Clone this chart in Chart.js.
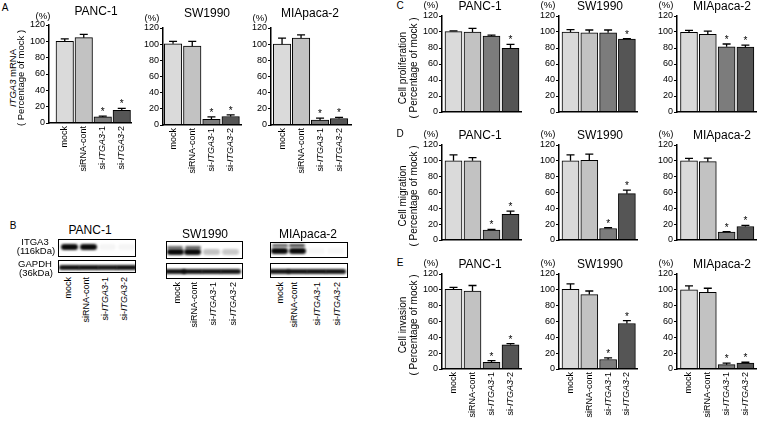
<!DOCTYPE html>
<html><head><meta charset="utf-8">
<script src="https://cdn.jsdelivr.net/npm/chart.js@4.4.1/dist/chart.umd.min.js"></script>
<style>
html,body{margin:0;padding:0;background:#fff;}
body{width:757px;height:424px;position:relative;overflow:hidden;font-family:"Liberation Sans Narrow","Arial Narrow","Liberation Sans",Arial,sans-serif;color:#000;}
.t{position:absolute;white-space:nowrap;line-height:1;transform:translate(-50%,-50%);}
.v{position:absolute;white-space:nowrap;line-height:1;writing-mode:vertical-rl;transform:translate(-50%,-50%) rotate(180deg);}
.vl{position:absolute;white-space:nowrap;line-height:1;writing-mode:vertical-rl;transform:translate(-50%,0) rotate(180deg);}
canvas{position:absolute;}
.box{position:absolute;border:1px solid #000;background:#fff;overflow:hidden;box-sizing:border-box;}
.band{position:absolute;border-radius:3px;filter:blur(1px);}
</style></head><body>
<script>
// ---------------- DATA ----------------
const categories = ['mock', 'siRNA-cont', 'si-ITGA3-1', 'si-ITGA3-2'];
const yTickValues = [0, 20, 40, 60, 80, 100, 120];
const cellLines = ['PANC-1', 'SW1990', 'MIApaca-2'];

// A: ITGA3 mRNA (% of mock)
const mrnaPANC1 = [100, 104.5, 7.5, 15.5];
const mrnaPANC1Err = [3, 4, 1, 2.5];
const mrnaSW1990 = [100.5, 97.5, 7, 10.5];
const mrnaSW1990Err = [3, 6, 3, 2];
const mrnaMIApaca2 = [100, 107.5, 6, 8];
const mrnaMIApaca2Err = [7.5, 4, 2.5, 1.5];

// C: cell proliferation
const prolifPANC1 = [100.5, 100, 95, 79.5];
const prolifPANC1Err = [0.8, 4.5, 1.2, 5];
const prolifSW1990 = [100, 99, 99, 91];
const prolifSW1990Err = [3, 3.5, 3.5, 0.8];
const prolifMIApaca2 = [99.5, 97, 81.5, 81];
const prolifMIApaca2Err = [2.5, 4, 3.5, 2.5];

// D: cell migration
const migPANC1 = [100, 100, 12.5, 32.5];
const migPANC1Err = [7.5, 4, 1, 4];
const migSW1990 = [100, 100.5, 14.5, 58.5];
const migSW1990Err = [7.5, 8, 1, 4.5];
const migMIApaca2 = [100, 99, 10, 17];
const migMIApaca2Err = [3, 4.5, 0.7, 1.5];

// E: cell invasion
const invPANC1 = [100.5, 98.5, 8.5, 30.5];
const invPANC1Err = [2.5, 7, 2, 1.5];
const invSW1990 = [100.5, 94, 12, 57.5];
const invSW1990Err = [7, 4.5, 2, 3.5];
const invMIApaca2 = [100, 97, 5.5, 7.5];
const invMIApaca2Err = [5, 5, 2, 1];

// significance markers (*)
const sigBoth = [0, 0, 1, 1];
const sigLast = [0, 0, 0, 1];

// B: western blot band intensities per lane
const blotUpperPANC1 = [0, 0, 0, 0];
const blotLowerPANC1 = [1, 1, 0.04, 0.04];
const blotGapdhPANC1 = [0.95, 0.95, 0.92, 0.95];
const blotUpperSW1990 = [0.6, 0.65, 0, 0];
const blotLowerSW1990 = [1, 1, 0.25, 0.22];
const blotGapdhSW1990 = [0.95, 0.95, 0.95, 0.95];
const blotUpperMIApaca2 = [0.65, 0.75, 0, 0];
const blotLowerMIApaca2 = [1, 1, 0.03, 0.03];
const blotGapdhMIApaca2 = [0.95, 0.95, 0.95, 0.95];

// ---------------- STYLE / LAYOUT ----------------
const FONT = '"Liberation Sans Narrow","Arial Narrow","Liberation Sans",Arial,sans-serif';
const barColors = ['#dadada', '#c2c2c2', '#7c7c7c', '#555555'];

const colR1 = {ax: 442, right: 521, b1: 445, sp: 19, bw: 17};
const colR2 = {ax: 559, right: 637, b1: 562, sp: 18.8, bw: 17};
const colR3 = {ax: 677, right: 756, b1: 680.5, sp: 18.8, bw: 17};
const rowC = {top: 16, bot: 120}, rowD = {top: 145, bot: 248}, rowE = {top: 274, bot: 377};

const panels = [
  {vals: mrnaPANC1, errs: mrnaPANC1Err, sig: sigBoth, geo: {ax: 49, right: 131, top: 25, bot: 131, b1: 56, sp: 19, bw: 17.5}, xl: true, fs: 9},
  {vals: mrnaSW1990, errs: mrnaSW1990Err, sig: sigBoth, geo: {ax: 163, right: 241, top: 28, bot: 133, b1: 164.3, sp: 19.2, bw: 17.5}, xl: true, fs: 9},
  {vals: mrnaMIApaca2, errs: mrnaMIApaca2Err, sig: sigBoth, geo: {ax: 271, right: 351, top: 28, bot: 133, b1: 273.3, sp: 19, bw: 17.5}, xl: true, fs: 9},
  {vals: prolifPANC1, errs: prolifPANC1Err, sig: sigLast, geo: Object.assign({}, colR1, rowC)},
  {vals: prolifSW1990, errs: prolifSW1990Err, sig: sigLast, geo: Object.assign({}, colR2, rowC)},
  {vals: prolifMIApaca2, errs: prolifMIApaca2Err, sig: sigBoth, geo: Object.assign({}, colR3, rowC)},
  {vals: migPANC1, errs: migPANC1Err, sig: sigBoth, geo: Object.assign({}, colR1, rowD)},
  {vals: migSW1990, errs: migSW1990Err, sig: sigBoth, geo: Object.assign({}, colR2, rowD)},
  {vals: migMIApaca2, errs: migMIApaca2Err, sig: sigBoth, geo: Object.assign({}, colR3, rowD)},
  {vals: invPANC1, errs: invPANC1Err, sig: sigBoth, geo: Object.assign({}, colR1, rowE), xl: true, fs: 9},
  {vals: invSW1990, errs: invSW1990Err, sig: sigBoth, geo: Object.assign({}, colR2, rowE), xl: true, fs: 9},
  {vals: invMIApaca2, errs: invMIApaca2Err, sig: sigBoth, geo: Object.assign({}, colR3, rowE), xl: true, fs: 9},
];

// ---------------- HELPERS ----------------
function addDiv(cls, html, x, y, size, extra) {
  const d = document.createElement('div');
  d.className = cls; d.style.left = x + 'px'; d.style.top = y + 'px';
  d.style.fontSize = size + 'px'; d.innerHTML = html;
  if (extra) Object.assign(d.style, extra);
  document.body.appendChild(d); return d;
}
function italicize(s) { return s.replace('ITGA3', '<i>ITGA3</i>'); }

function drawRotLabel(ctx, x, y, text, size) {
  const parts = text.split(/(ITGA3)/).filter(s => s);
  const fonts = parts.map(p => (p === 'ITGA3' ? 'italic ' : '') + size + 'px ' + FONT);
  let total = 0;
  const ws = parts.map((p, k) => { ctx.font = fonts[k]; const w = ctx.measureText(p).width; total += w; return w; });
  ctx.save(); ctx.translate(x, y); ctx.rotate(-Math.PI / 2);
  ctx.textBaseline = 'middle'; ctx.textAlign = 'left'; ctx.fillStyle = '#000';
  let cx = -total;
  parts.forEach((p, k) => { ctx.font = fonts[k]; ctx.fillText(p, cx, 0); cx += ws[k]; });
  ctx.restore();
}

function makePlugin(p) {
  return {
    id: 'errbars',
    afterDatasetsDraw(chart) {
      const ctx = chart.ctx, ys = chart.scales.y;
      const meta = chart.getDatasetMeta(0);
      ctx.save();
      ctx.strokeStyle = '#000'; ctx.lineWidth = 1.3;
      meta.data.forEach((el, i) => {
        const yt = ys.getPixelForValue(p.vals[i] + p.errs[i]);
        const yb = ys.getPixelForValue(p.vals[i]);
        ctx.beginPath();
        ctx.moveTo(el.x, yb); ctx.lineTo(el.x, yt);
        ctx.moveTo(el.x - 4, yt); ctx.lineTo(el.x + 4, yt);
        ctx.stroke();
        if (p.sig[i]) {
          ctx.fillStyle = '#000'; ctx.font = '10px ' + FONT;
          ctx.textAlign = 'center'; ctx.textBaseline = 'alphabetic';
          ctx.fillText('*', el.x, yt - 1);
        }
      });
      ctx.restore();
    },
    afterDraw(chart) {
      if (!p.xl) return;
      const xs = chart.scales.x, ca = chart.chartArea;
      categories.forEach((c, i) => drawRotLabel(chart.ctx, xs.getPixelForValue(i + 1), ca.bottom + 3, c, p.fs));
    }
  };
}

function makeChart(p) {
  const g = p.geo;
  const Wy = 28, padL = 2, padT = 12, padR = 4, padB = p.xl ? 60 : 8;
  const W = Math.ceil(g.right - g.ax + Wy + padL + padR);
  const H = Math.ceil(g.bot - g.top + padT + padB);
  const padRr = W - (g.right - g.ax) - Wy - padL;
  const padBb = H - (g.bot - g.top) - padT;
  const c = document.createElement('canvas');
  c.width = W; c.height = H;
  c.style.left = (g.ax - Wy - padL) + 'px'; c.style.top = (g.top - padT) + 'px';
  c.style.width = W + 'px'; c.style.height = H + 'px';
  document.body.appendChild(c);
  const c1 = g.b1 + g.bw / 2, c4 = c1 + 3 * g.sp;
  const xmin = 1 - (c1 - g.ax) / g.sp, xmax = 4 + (g.right - c4) / g.sp;
  new Chart(c, {
    type: 'bar',
    data: {datasets: [{
      data: p.vals.map((v, i) => ({x: i + 1, y: v})),
      backgroundColor: barColors, borderColor: '#000', borderWidth: 1,
      barThickness: g.bw, borderSkipped: 'start'
    }]},
    options: {
      responsive: false, animation: false, devicePixelRatio: 1,
      layout: {padding: {left: padL, top: padT, right: padRr, bottom: padBb}},
      plugins: {legend: {display: false}, tooltip: {enabled: false}},
      scales: {
        x: {type: 'linear', min: xmin, max: xmax, offset: false,
            grid: {display: false}, ticks: {display: false},
            border: {display: true, color: '#000', width: 1.5, z: 1}},
        y: {min: 0, max: 120,
            afterBuildTicks: s => { s.ticks = yTickValues.map(v => ({value: v})); },
            afterFit: s => { s.width = Wy; },
            grid: {drawOnChartArea: false, drawTicks: true, tickLength: 3, color: '#000', lineWidth: 1},
            border: {display: true, color: '#000', width: 1.5, z: 1},
            ticks: {color: '#000', font: {family: FONT, size: 9}, padding: 1}}
      }
    },
    plugins: [makePlugin(p)]
  });
}

panels.forEach(makeChart);

// ---------------- TEXT ----------------
addDiv('t', 'A', 5, 8, 10);
addDiv('t', 'B', 13, 226, 10);
addDiv('t', 'C', 400, 6, 10);
addDiv('t', 'D', 400, 134, 10);
addDiv('t', 'E', 400, 263, 10);

const titleA = [[96, 11], [207, 13], [310, 13]];
const pctA = [[43, 16], [152, 18], [260, 18]];
cellLines.forEach((n, i) => {
  addDiv('t', n, titleA[i][0], titleA[i][1], 12);
  addDiv('t', '(%)', pctA[i][0], pctA[i][1], 9.5);
});
const rTitleX = [480, 600, 722], rPctX = [431, 548, 666], rRowY = [6, 135, 264];
rRowY.forEach(y => cellLines.forEach((n, i) => {
  addDiv('t', n, rTitleX[i], y, 12);
  addDiv('t', '(%)', rPctX[i], y - 1, 9.5);
}));

addDiv('v', '<i>ITGA3</i> mRNA', 12.5, 78, 9.5);
addDiv('v', '( Percentage of mock )', 21, 78, 9.5);
[['Cell proliferation', 68], ['Cell migration', 196], ['Cell invasion', 325]].forEach(([t, y]) => {
  addDiv('v', t, 403, y, 10);
  addDiv('v', '( Percentage of mock )', 413.5, y, 10);
});

// ---------------- WESTERN BLOTS ----------------
function box(x, y, w, h) {
  const d = document.createElement('div'); d.className = 'box';
  Object.assign(d.style, {left: x + 'px', top: y + 'px', width: w + 'px', height: h + 'px'});
  document.body.appendChild(d); return d;
}
function band(parent, cx, cy, a, w, h) {
  if (a <= 0.005) return;
  const d = document.createElement('div'); d.className = 'band';
  Object.assign(d.style, {left: (cx - w / 2) + 'px', top: (cy - h / 2) + 'px', width: w + 'px', height: h + 'px',
    background: 'rgba(10,10,10,' + a + ')'});
  parent.appendChild(d);
}
const blots = [
  {name: 'PANC-1', tx: 90, ty: 230, left: 58, right: 136, itTop: 239, itH: 18, gTop: 260, gH: 13,
   upY: 244, lowY: 247, gY: 267, lanes: [69, 88, 107, 126], labX: [68, 86, 104.5, 123.5], labY: 277,
   up: blotUpperPANC1, low: blotLowerPANC1, g: blotGapdhPANC1},
  {name: 'SW1990', tx: 205, ty: 234, left: 166, right: 243, itTop: 241, itH: 18, gTop: 263, gH: 16,
   upY: 247, lowY: 252, gY: 271, lanes: [175, 192.5, 211, 230], labX: [177, 194, 213, 233], labY: 282,
   up: blotUpperSW1990, low: blotLowerSW1990, g: blotGapdhSW1990},
  {name: 'MIApaca-2', tx: 308, ty: 234, left: 270, right: 348, itTop: 242, itH: 16, gTop: 263, gH: 15,
   upY: 245.5, lowY: 251, gY: 271, lanes: [279.5, 297, 316, 335], labX: [280, 293.5, 317, 337], labY: 282,
   up: blotUpperMIApaca2, low: blotLowerMIApaca2, g: blotGapdhMIApaca2},
];
blots.forEach(b => {
  addDiv('t', b.name, b.tx, b.ty, 12);
  const w = b.right - b.left;
  const bi = box(b.left, b.itTop, w, b.itH);
  const bg = box(b.left, b.gTop, w, b.gH);
  b.lanes.forEach((lx, i) => {
    band(bi, lx - b.left - 1, b.upY - b.itTop - 1, b.up[i], 16, 3);
    band(bi, lx - b.left - 1, b.lowY - b.itTop - 1, b.low[i], 17, 6);
    band(bg, lx - b.left - 1, b.gY - b.gTop - 1, b.g[i], 21, 5);
  });
  categories.forEach((c, i) => addDiv('vl', italicize(c), b.labX[i], b.labY, 9));
});
addDiv('t', 'ITGA3', 35, 242, 9.5);
addDiv('t', '(116kDa)', 36, 251, 9.5);
addDiv('t', 'GAPDH', 35, 264, 9.5);
addDiv('t', '(36kDa)', 36, 273, 9.5);
</script>
</body></html>
